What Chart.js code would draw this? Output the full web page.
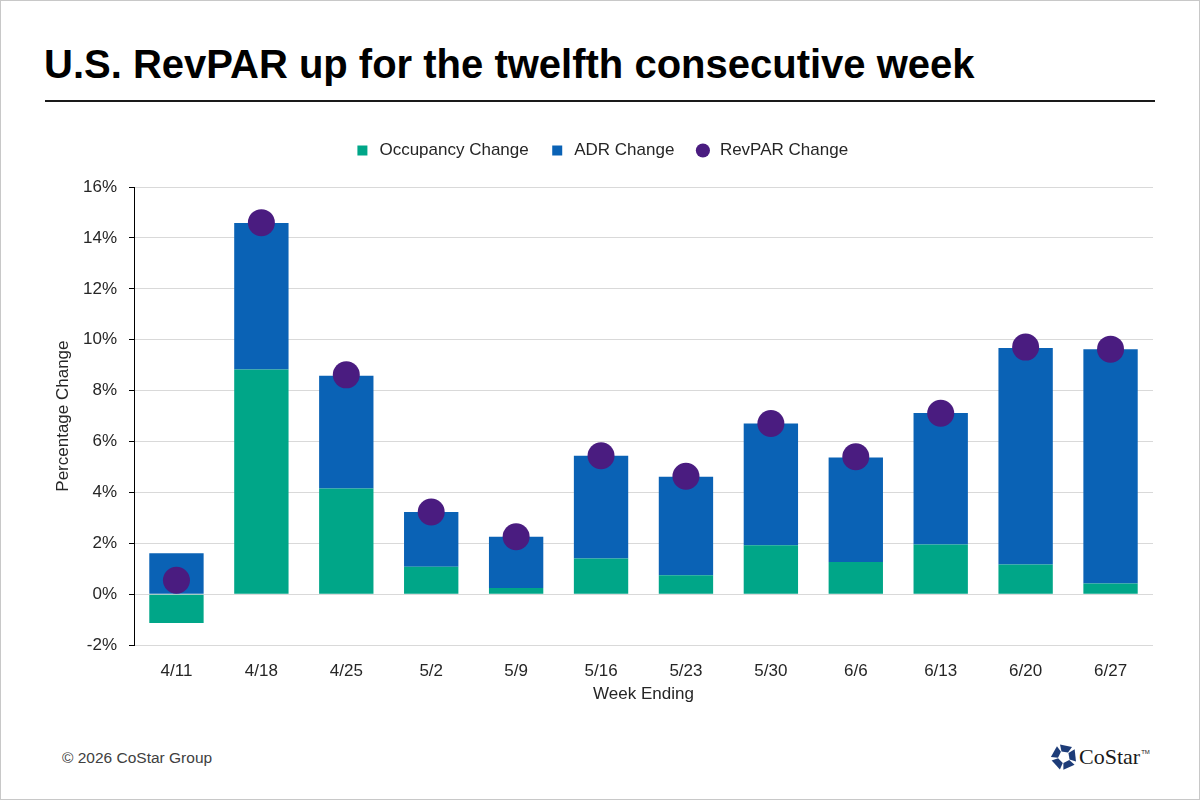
<!DOCTYPE html>
<html>
<head>
<meta charset="utf-8">
<script src="https://cdn.jsdelivr.net/npm/chart.js@4"></script>
<style>
body{margin:0;background:#fff;font-family:"Liberation Sans",Arial,sans-serif;}
#frame{position:fixed;left:0;top:0;width:1200px;height:800px;box-sizing:border-box;border:1px solid #c8c8c8;pointer-events:none;}
#title{position:absolute;left:44px;top:44px;font-size:40px;line-height:40px;font-weight:bold;color:#000;white-space:nowrap;}
#rule{position:absolute;left:45px;top:100px;width:1110px;height:2px;background:#1a1a1a;}
#wrap{position:absolute;left:0;top:120px;width:1200px;height:600px;}
#footer{position:absolute;left:62px;top:749px;font-size:15.5px;color:#404040;}
#logo{position:absolute;left:1051px;top:744px;}
#logoText{position:absolute;left:1079px;top:744px;font-family:"Liberation Serif","DejaVu Serif",serif;font-size:22px;color:#1a1a1a;}
#logoText sup{font-family:"Liberation Sans",sans-serif;font-size:6px;vertical-align:10px;margin-left:1px;}
</style>
</head>
<body>
<div id="title">U.S. RevPAR up for the twelfth consecutive week</div>
<div id="rule"></div>
<div id="wrap"><canvas id="revparChart"></canvas></div>
<div id="footer">© 2026 CoStar Group</div>
<svg id="logo" width="26" height="26" viewBox="-13 -13 26 26">
  <g fill="#1d3c78">
    <polygon points="-4,-12.5 8,-10 4,-4.5 -2.5,-5.5"/>
    <polygon points="-4,-12.5 8,-10 4,-4.5 -2.5,-5.5" transform="rotate(72)"/>
    <polygon points="-4,-12.5 8,-10 4,-4.5 -2.5,-5.5" transform="rotate(144)"/>
    <polygon points="-4,-12.5 8,-10 4,-4.5 -2.5,-5.5" transform="rotate(216)"/>
    <polygon points="-4,-12.5 8,-10 4,-4.5 -2.5,-5.5" transform="rotate(288)"/>
  </g>
</svg>
<div id="logoText">CoStar<sup>TM</sup></div>
<div id="frame"></div>
<script>

const weeks = ["4/11","4/18","4/25","5/2","5/9","5/16","5/23","5/30","6/6","6/13","6/20","6/27"]
const occupancy = [-1.13, 8.83, 4.16, 1.08, 0.25, 1.41, 0.75, 1.93, 1.27, 1.96, 1.17, 0.42]
const adr = [1.61, 5.76, 4.43, 2.15, 2.01, 4.03, 3.87, 4.78, 4.10, 5.16, 8.51, 9.21]
const revpar = [0.55, 14.6, 8.62, 3.23, 2.26, 5.44, 4.64, 6.71, 5.40, 7.11, 9.71, 9.63]
const yTicks = [-2, 0, 2, 4, 6, 8, 10, 12, 14, 16]

const textColor = "#262626"

// push the plot down a bit below the legend
const legendSpacer = {
    id: "legendSpacer",
    beforeInit(chart){
        const fit = chart.legend.fit
        chart.legend.fit = function(){
            fit.bind(chart.legend)()
            this.height += 18
        }
    }
}

new Chart(document.getElementById("revparChart"), {

    type: "bar",

    data: {
        labels: weeks,
        datasets: [
            {
                label: "Occupancy Change",
                data: occupancy,
                backgroundColor: "#00A688",
                stack: "bars",
                order: 2,
                pointStyle: "rect",
                barPercentage: 0.64,
                categoryPercentage: 1
            },
            {
                label: "ADR Change",
                data: adr,
                backgroundColor: "#0A62B5",
                stack: "bars",
                order: 2,
                pointStyle: "rect",
                barPercentage: 0.64,
                categoryPercentage: 1
            },
            {
                type: "line",
                label: "RevPAR Change",
                data: revpar,
                stack: "rev",
                order: 0,
                showLine: false,
                pointStyle: "circle",
                pointRadius: 13.5,
                pointHoverRadius: 13.5,
                pointBorderWidth: 0,
                backgroundColor: "#4A1C80",
                borderColor: "#4A1C80"
            }
        ]
    },

    options: {
        responsive: true,
        maintainAspectRatio: false,
        animation: false,
        layout: {
            padding: {top: 2, left: 49, right: 47, bottom: 15}
        },
        plugins: {
            tooltip: {enabled: false},
            legend: {
                position: "top",
                labels: {
                    usePointStyle: true,
                    boxHeight: 10,
                    padding: 20,
                    color: textColor,
                    font: {family: "Liberation Sans", size: 17},
                    sort: function(a, b){ return a.datasetIndex - b.datasetIndex }
                }
            }
        },
        scales: {
            x: {
                stacked: true,
                grid: {display: false, drawTicks: false},
                border: {display: false},
                ticks: {
                    color: textColor,
                    padding: 16,
                    font: {family: "Liberation Sans", size: 17}
                },
                title: {
                    display: true,
                    text: "Week Ending",
                    color: textColor,
                    padding: {top: -13, bottom: 0},
                    font: {family: "Liberation Sans", size: 17}
                }
            },
            y: {
                stacked: true,
                min: -2,
                max: 16,
                afterFit: function(scale){ scale.width = 85 },
                afterBuildTicks: function(scale){
                    scale.ticks = yTicks.map(function(v){ return {value: v} })
                },
                grid: {
                    color: "#d9d9d9",
                    tickColor: "#000",
                    tickLength: 5
                },
                border: {display: true, color: "#000", width: 1},
                ticks: {
                    color: textColor,
                    padding: 12,
                    font: {family: "Liberation Sans", size: 17},
                    callback: function(v){ return v + "%" }
                },
                title: {
                    display: true,
                    text: "Percentage Change",
                    color: textColor,
                    font: {family: "Liberation Sans", size: 17}
                }
            }
        }
    },

    plugins: [legendSpacer]

})

</script>
</body>
</html>
